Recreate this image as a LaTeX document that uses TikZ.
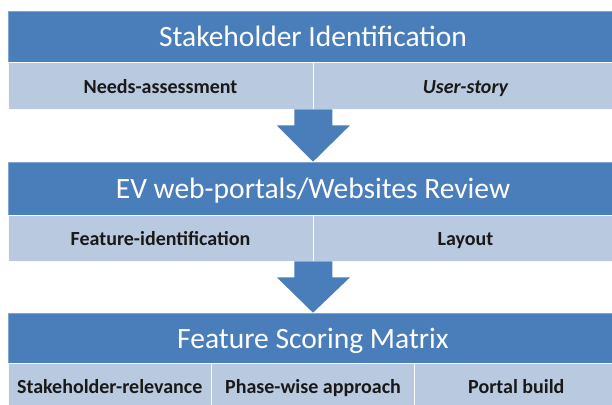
\documentclass[tikz,border=0pt]{standalone}
\usepackage{fontspec}
\setmainfont{Carlito}
\usetikzlibrary{calc}
\definecolor{barblue}{HTML}{4A7EBB}
\definecolor{cellblue}{HTML}{B9C9DF}
\tikzset{
  titlebar/.style={fill=barblue, draw=barblue!70!white, line width=0.6pt, text=white,
    minimum width=610pt, inner sep=0pt, text height=19pt, text depth=0pt,
    font=\fontsize{29.5}{31}\selectfont},
  cellbox/.style={fill=cellblue, draw=white!90!cellblue, line width=0.8pt, text=black!90,
    inner sep=0pt, text height=15pt, text depth=0pt,
    font=\fontsize{20}{22}\selectfont\bfseries},
  blockarrow/.style={fill=barblue, draw=none}
}
\begin{document}
\begin{tikzpicture}[x=1pt,y=-1pt]
\useasboundingbox (0,0) rectangle (612,404);
\fill[white] (0,0) rectangle (612,404);
\clip (0,0) rectangle (612,404);
% stage 1
\node[titlebar, minimum height=51pt] (t1) at (313,36.5) {Stakeholder Identification};
\node[cellbox, minimum width=305pt, minimum height=47pt] (a1) at (160.5,85.5) {Needs-assessment};
\node[cellbox, minimum width=305pt, minimum height=47pt] (b1) at (465.5,85.5) {\itshape User-story};
% stage 2
\node[titlebar, minimum height=53pt] (t2) at (313,188.5) {EV web-portals/Websites Review};
\node[cellbox, minimum width=305pt, minimum height=46pt] (a2) at (160.5,238) {Feature-identification};
\node[cellbox, minimum width=305pt, minimum height=46pt] (b2) at (465.5,238) {Layout};
% stage 3
\node[titlebar, minimum height=51pt] (t3) at (313,338.5) {Feature Scoring Matrix};
\node[cellbox, minimum width=203.3pt, minimum height=46pt] (c1) at (109.7,386) {Stakeholder-relevance};
\node[cellbox, minimum width=203.3pt, minimum height=46pt] (c2) at (313,386) {Phase-wise approach};
\node[cellbox, minimum width=203.3pt, minimum height=46pt] (c3) at (516.3,386) {Portal build};
% block arrows
\foreach \src/\dst in {a1/t2, a2/t3}{
  \coordinate (s) at (\src.south east);
  \coordinate (d) at (\dst.north);
  \fill[blockarrow] ($(s)+(-19,0)$) -- ($(s)+(19,0)$) -- ($(s)+(19,16)$) -- ($(s)+(36.5,16)$)
     -- (d) -- ($(s)+(-36.5,16)$) -- ($(s)+(-19,16)$) -- cycle;
}
\end{tikzpicture}
\end{document}
